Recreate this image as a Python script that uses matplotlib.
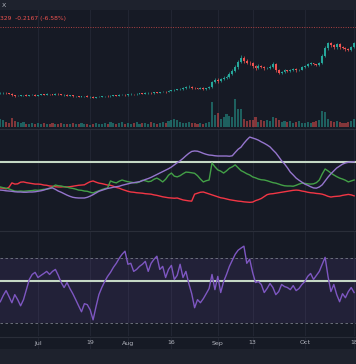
import matplotlib
matplotlib.use("Agg")
import matplotlib.pyplot as plt
import numpy as np

# ---- data (daily, Jun 18 .. Oct 18) ----
first_open = 1.05
closes = [
    1.06, 1.07, 1.05, 1.03, 0.99, 0.97, 0.98, 0.99, 1.00, 0.98,
    1.00, 1.01, 0.98, 1.00, 1.02, 1.01, 1.03, 1.02, 1.01, 1.04,
    1.02, 1.00, 1.01, 0.98, 0.99, 0.96, 0.97, 0.95, 0.96, 0.97,
    0.94, 0.95, 0.92, 0.94, 0.95, 0.96, 0.97, 0.96, 0.98, 0.99,
    0.98, 1.00, 1.01, 0.99, 1.02, 1.03, 1.02, 1.04, 1.05, 1.04,
    1.06, 1.07, 1.05, 1.08, 1.07, 1.09, 1.10, 1.09, 1.12, 1.14,
    1.15, 1.17, 1.18, 1.21, 1.24, 1.26, 1.22, 1.20, 1.19, 1.21,
    1.18, 1.20, 1.24, 1.40, 1.47, 1.43, 1.50, 1.53, 1.56, 1.65,
    1.74, 1.86, 2.02, 2.14, 2.05, 1.99, 1.97, 1.89, 1.83, 1.90,
    1.86, 1.82, 1.84, 1.87, 1.95, 1.77, 1.68, 1.71, 1.76, 1.74,
    1.77, 1.80, 1.75, 1.78, 1.86, 1.90, 1.95, 1.97, 1.94, 1.93,
    1.98, 2.20, 2.44, 2.58, 2.52, 2.46, 2.56, 2.47, 2.45, 2.40,
    2.39, 2.47, 2.59,
]
wick_up = [
    .02, .02, .01, .02, .03, .02, .01, .02, .01, .02,
    .01, .02, .02, .01, .02, .01, .02, .01, .02, .02,
    .01, .02, .01, .02, .01, .02, .01, .01, .02, .01,
    .02, .01, .02, .01, .02, .01, .01, .02, .01, .02,
    .01, .02, .01, .02, .01, .02, .01, .02, .01, .02,
    .02, .01, .02, .01, .02, .01, .02, .01, .02, .02,
    .03, .02, .02, .03, .03, .04, .03, .02, .02, .02,
    .02, .02, .03, .04, .05, .04, .03, .04, .04, .05,
    .05, .06, .05, .08, .06, .05, .04, .04, .03, .04,
    .03, .03, .03, .04, .05, .04, .03, .03, .03, .02,
    .03, .02, .03, .02, .03, .03, .02, .03, .02, .02,
    .03, .05, .06, .05, .04, .03, .04, .03, .03, .02,
    .03, .03, .04,
]
wick_dn = [
    .01, .02, .02, .01, .02, .02, .01, .01, .02, .01,
    .02, .01, .02, .01, .01, .02, .01, .02, .01, .01,
    .02, .01, .02, .01, .02, .01, .02, .01, .01, .02,
    .01, .02, .02, .01, .01, .02, .01, .01, .02, .01,
    .02, .01, .01, .02, .01, .01, .02, .01, .02, .01,
    .01, .02, .01, .02, .01, .02, .01, .02, .01, .01,
    .02, .01, .02, .02, .02, .03, .04, .02, .02, .02,
    .03, .02, .02, .03, .04, .05, .03, .03, .04, .04,
    .05, .05, .06, .05, .07, .05, .05, .06, .05, .04,
    .04, .04, .03, .03, .04, .06, .05, .04, .03, .03,
    .03, .03, .04, .03, .03, .03, .03, .02, .03, .03,
    .03, .04, .05, .06, .05, .05, .04, .05, .04, .04,
    .03, .03, .03,
]
volume = [
    8, 7, 5, 4, 9, 6, 5, 4, 5, 3,
    3, 4, 3, 4, 3, 4, 3, 3, 4, 3,
    3, 4, 3, 3, 3, 4, 3, 3, 4, 3,
    3, 2, 3, 4, 3, 3, 4, 3, 5, 4,
    3, 4, 5, 3, 4, 3, 4, 5, 3, 4,
    4, 3, 5, 4, 3, 4, 5, 4, 6, 7,
    8, 7, 5, 4, 4, 5, 4, 4, 3, 4,
    3, 4, 5, 25, 12, 14, 8, 10, 13, 11,
    10, 28, 18, 18, 8, 6, 7, 7, 10, 5,
    7, 6, 7, 6, 10, 9, 7, 5, 6, 5,
    6, 4, 5, 6, 4, 4, 5, 4, 5, 6,
    7, 16, 15, 8, 6, 5, 6, 5, 4, 4,
    5, 6, 8,
]
last_price = 3.08

adx = [
    13.3, 13.2, 13.0, 12.9, 12.8, 12.6, 12.5, 12.5, 12.4, 12.4,
    12.5, 12.5, 12.6, 12.8, 13.0, 13.3, 13.7, 14.1, 14.2, 13.6,
    12.9, 12.4, 11.8, 11.2, 10.7, 10.3, 10.1, 10.0, 10.0, 10.0,
    10.3, 10.8, 11.4, 12.1, 12.8, 13.2, 13.6, 14.0, 14.2, 14.5,
    14.7, 14.9, 15.3, 15.6, 15.9, 16.2, 16.4, 16.6, 16.8, 17.2,
    17.7, 18.1, 18.6, 19.2, 19.8, 20.4, 21.0, 21.6, 22.2, 22.9,
    23.8, 24.7, 25.5, 26.5, 27.6, 28.6, 29.4, 29.6, 29.5, 29.1,
    28.6, 28.2, 27.9, 27.8, 27.6, 27.5, 27.5, 27.5, 27.5, 27.4,
    27.6, 29.0, 30.3, 31.2, 32.8, 34.2, 35.4, 35.0, 34.6, 34.1,
    33.4, 32.8, 32.1, 31.3, 30.0, 28.8, 27.2, 25.5, 24.2, 22.6,
    20.8, 19.6, 18.3, 17.4, 16.6, 15.8, 15.3, 14.7, 14.2, 14.1,
    14.6, 15.5, 17.1, 18.7, 20.1, 21.3, 22.5, 23.3, 24.1, 24.6,
    24.9, 25.0, 25.1,
]
di_plus = [
    14.6, 14.3, 14.1, 13.8, 13.3, 12.9, 12.8, 12.9, 12.8, 12.9,
    13.0, 13.1, 13.3, 13.2, 13.4, 13.6, 13.7, 13.9, 14.6, 15.4,
    15.1, 15.0, 14.7, 14.5, 14.2, 14.0, 13.7, 13.3, 13.2, 12.9,
    12.8, 12.4, 12.1, 12.6, 13.0, 13.5, 13.9, 14.2, 17.1, 16.6,
    16.3, 17.0, 17.5, 17.1, 16.8, 16.6, 16.4, 16.3, 16.7, 17.4,
    17.2, 16.8, 17.0, 17.8, 18.3, 17.6, 16.7, 17.8, 19.5, 20.4,
    19.1, 18.8, 19.3, 20.1, 20.8, 20.7, 20.5, 20.3, 19.3, 17.9,
    16.7, 17.2, 17.5, 24.6, 23.0, 21.7, 21.2, 20.4, 21.3, 22.4,
    23.0, 23.8, 22.6, 21.4, 20.8, 20.1, 19.6, 18.8, 18.4, 17.9,
    17.6, 17.5, 17.2, 16.8, 16.4, 16.2, 15.8, 15.4, 15.1, 15.0,
    15.0, 14.9, 15.3, 15.8, 16.2, 16.1, 15.9, 15.8, 15.9, 16.4,
    17.5, 20.0, 22.1, 21.3, 20.4, 19.6, 18.9, 18.3, 17.9, 17.4,
    16.7, 17.1, 17.5,
]
di_minus = [
    14.2, 14.1, 13.8, 14.5, 16.3, 15.8, 15.9, 16.6, 16.7, 16.4,
    16.2, 16.0, 15.8, 15.8, 15.7, 15.4, 15.3, 15.0, 14.9, 14.7,
    14.6, 14.6, 14.7, 14.6, 14.7, 14.9, 15.1, 15.3, 15.4, 15.5,
    16.2, 16.8, 17.1, 16.6, 16.2, 16.0, 15.7, 15.4, 15.3, 14.9,
    14.4, 14.1, 13.6, 13.2, 12.8, 12.5, 12.4, 12.2, 12.1, 12.0,
    11.8, 11.7, 11.6, 11.3, 11.1, 10.8, 10.5, 10.3, 10.1, 10.0,
    9.9, 10.0, 9.6, 9.2, 9.0, 8.8, 8.7, 11.6, 12.0, 12.4,
    12.5, 12.1, 11.7, 11.3, 10.9, 10.5, 10.1, 9.9, 9.6, 9.3,
    9.1, 8.9, 8.7, 8.6, 8.4, 8.3, 8.2, 8.3, 8.9, 9.3,
    9.8, 10.6, 11.4, 11.7, 11.8, 12.0, 12.2, 12.4, 12.6, 12.8,
    13.0, 13.2, 13.3, 13.2, 12.9, 12.7, 12.4, 12.2, 12.1, 11.9,
    11.8, 11.6, 11.2, 10.7, 10.4, 10.6, 10.7, 10.8, 11.1, 11.3,
    11.5, 11.3, 10.9,
]
adx_level = 25

rsi = [
    43.1, 46.9, 50.0, 46.3, 42.5, 47.5, 44.4, 40.6, 44.4, 50.6,
    56.9, 60.0, 61.3, 58.1, 59.4, 60.6, 61.9, 60.0, 61.9, 63.1,
    59.4, 55.0, 51.9, 55.0, 51.3, 48.1, 44.4, 40.6, 36.9, 41.9,
    41.3, 38.1, 31.9, 40.0, 47.5, 51.9, 55.6, 58.8, 61.3, 64.4,
    66.9, 70.0, 72.5, 74.4, 66.3, 66.9, 61.9, 63.1, 65.0, 66.3,
    68.1, 61.9, 66.9, 69.4, 71.3, 63.1, 65.0, 58.1, 63.1, 65.6,
    56.9, 59.4, 66.3, 58.1, 61.9, 54.4, 48.1, 39.4, 44.4, 42.5,
    45.0, 48.1, 51.3, 60.0, 50.6, 58.8, 48.8, 55.6, 60.0, 65.0,
    68.8, 72.5, 75.0, 76.3, 77.5, 66.9, 69.4, 61.3, 55.0, 55.6,
    53.8, 48.8, 51.3, 54.4, 51.9, 47.5, 49.4, 53.8, 52.5, 51.9,
    50.6, 53.1, 50.0, 51.3, 53.8, 55.6, 58.8, 60.6, 56.9, 59.4,
    61.9, 66.3, 70.6, 58.8, 49.4, 53.8, 47.5, 43.1, 48.1, 45.6,
    49.4, 51.9, 48.8,
]
rsi_upper = 70
rsi_lower = 30
rsi_mid = 56

tick_days = [13, 31, 44, 59, 75, 87, 105, 122]
tick_labels = ["Jul", "19", "Aug", "16", "Sep", "13", "Oct", "18"]
header_text = "329  -0.2167 (-6.58%)"

# ---- colours ----
BG = "#161a25"
BAR = "#1e222d"
GRID = "#212532"
SEP = "#2a2e39"
UP = "#26a69a"
DOWN = "#ef5350"
LEVEL = "#c5d8c5"

W, H = 356, 364
XLIM = (-0.1, 122.65)
fig = plt.figure(figsize=(W / 100, H / 100), dpi=100)
fig.patch.set_facecolor(BG)


def pane(top, bottom, grid=True):
    # one full-width panel between two pixel rows
    ax = fig.add_axes([0, 1 - bottom / H, 1, (bottom - top) / H])
    ax.set_facecolor(BG)
    ax.set_xlim(*XLIM)
    ax.set_xticks([])
    ax.set_yticks([])
    for s in ax.spines.values():
        s.set_visible(False)
    if grid:
        for d in tick_days:
            ax.axvline(d, color=GRID, lw=0.8, zorder=0)
    return ax


n = len(closes)
x = np.arange(n)
opens = np.array([first_open] + closes[:-1])
closes_a = np.array(closes)
hi = np.maximum(opens, closes_a) + np.array(wick_up)
lo = np.minimum(opens, closes_a) - np.array(wick_dn)
cols = np.where(closes_a >= opens, UP, DOWN)

# top bar
ax_top = pane(0, 10, grid=False)
ax_top.set_facecolor(BAR)
ax_top.text(0.004, 0.45, "X", color="#b2b5be", fontsize=4.5, va="center",
            transform=ax_top.transAxes)

# price pane: volume underneath, candles on top
ax_v = pane(10, 128)
ax_v.set_ylim(-1, 117)
ax_v.bar(x, volume, width=0.75, color=cols, alpha=0.5, zorder=1)

ax_p = pane(10, 128, grid=False)
ax_p.patch.set_visible(False)
ax_p.set_ylim(-0.009, 3.6)
ax_p.vlines(x, lo, hi, color=cols, lw=0.5, zorder=3)
body = np.maximum(np.abs(closes_a - opens), 0.012)
ax_p.bar(x, body, bottom=np.minimum(opens, closes_a), width=0.68,
         color=cols, zorder=4)
ax_p.axhline(last_price, color=DOWN, lw=0.7, ls=(0, (1, 1.5)), alpha=0.7)
ax_p.text(0.003, 3.33, header_text, color=DOWN, fontsize=4.3, va="center")

# DMI pane
ax_d = pane(129, 230)
ax_d.set_ylim(-3.33, 38.75)
ax_d.axhline(adx_level, color=LEVEL, lw=1.5, zorder=2)
ax_d.plot(x, di_minus, color="#f23645", lw=1.0, zorder=3)
ax_d.plot(x, di_plus, color="#43a047", lw=1.0, zorder=3)
ax_d.plot(x, adx, color="#9575cd", lw=1.0, zorder=4)

# RSI pane
ax_r = pane(231, 336)
ax_r.set_ylim(21.9, 86.9)
ax_r.axhspan(rsi_lower, rsi_upper, color="#7e57c2", alpha=0.12, lw=0)
ax_r.axhline(rsi_upper, color="#787b86", lw=0.6, ls=(0, (3, 3)))
ax_r.axhline(rsi_lower, color="#787b86", lw=0.6, ls=(0, (3, 3)))
ax_r.axhline(rsi_mid, color=LEVEL, lw=1.5, zorder=2)
ax_r.plot(x, rsi, color="#7e57c2", lw=1.0, zorder=3)

# separators between panes
for yy in (128.5, 230.5, 336.5):
    fig.add_artist(plt.Line2D([0, 1], [1 - yy / H, 1 - yy / H],
                              color=SEP, lw=0.8))

# time axis
ax_t = pane(337, 349)
ax_t.set_ylim(0, 1)
for d, lab in zip(tick_days, tick_labels):
    ax_t.text(d, 0.5, lab, color="#b2b5be", fontsize=4.5, ha="center",
              va="center")

# bottom bar
ax_b = pane(349, 364, grid=False)
ax_b.set_facecolor(BAR)

fig.savefig("out.png", dpi=100, facecolor=BG)
